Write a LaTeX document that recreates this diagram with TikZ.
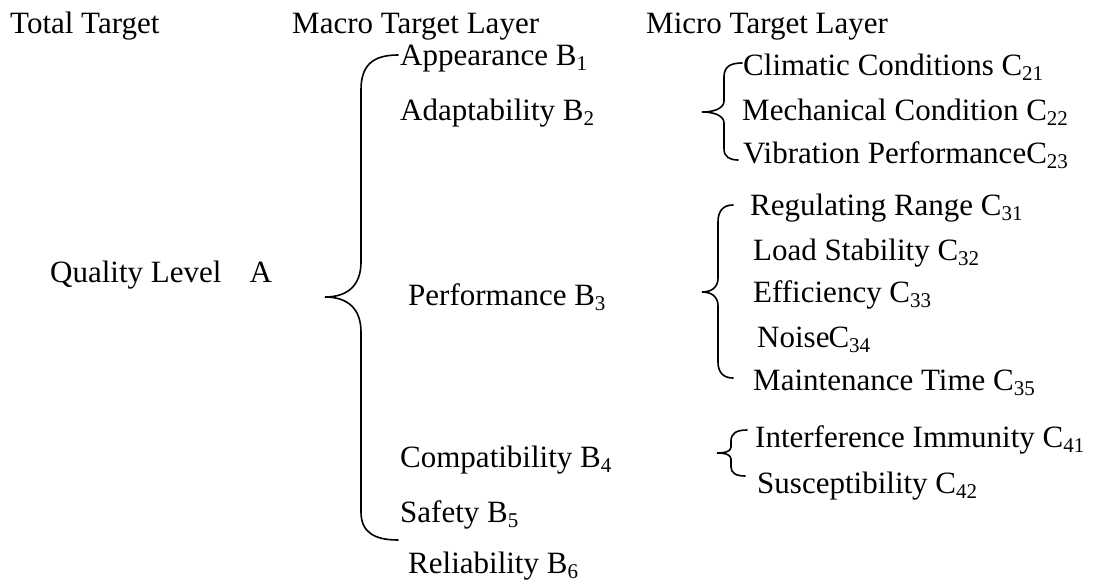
\documentclass[tikz,border=0pt]{standalone}
\usepackage{fontspec}
\setmainfont{Liberation Serif}
\newcommand\idx[1]{\raisebox{-5pt}{\fontsize{21}{21}\selectfont #1}}

\begin{document}
\begin{tikzpicture}[
		x=1pt, y=-1pt,
		lbl/.style={
			anchor=base west,
			inner sep=0pt,
			font=\fontsize{31}{37}\selectfont
		},
		brace/.style={line width=1.6pt, line cap=round}
		]
		\useasboundingbox (0,0) rectangle (1095,581);
		
		% layer headings
		\node[lbl] (total) at (10,33) {Total Target};
		\node[lbl] (macro) at (292,33) {Macro Target Layer};
		\node[lbl] (micro) at (646,33) {Micro Target Layer};
		
		\node[lbl] (quality) at (50,282) {Quality Level\hspace{28pt}A};
		
		% macro layer
		\node[lbl] (b1) at (400,65) {Appearance B\idx{1}};
		\node[lbl] (b2) at (400,120) {Adaptability B\idx{2}};
		\node[lbl] (b3) at (408,305) {Performance B\idx{3}};
		\node[lbl] (b4) at (400,467) {Compatibility B\idx{4}};
		\node[lbl] (b5) at (400,522) {Safety B\idx{5}};
		\node[lbl] (b6) at (408,573) {Reliability B\idx{6}};
		
		% micro layer
		\node[lbl] (c21) at (743,75) {Climatic Conditions C\idx{21}};
		\node[lbl] (c22) at (742,120) {Mechanical Condition C\idx{22}};
		\node[lbl] (c23) at (743,163) {Vibration PerformanceC\idx{23}};
		\node[lbl] (c31) at (750,215) {Regulating Range C\idx{31}};
		\node[lbl] (c32) at (753,260) {Load Stability C\idx{32}};
		\node[lbl] (c33) at (753,302) {Efficiency C\idx{33}};
		\node[lbl] (c34) at (757,347) {Noise\kern-1ptC\idx{34}};
		\node[lbl] (c35) at (753,390) {Maintenance Time C\idx{35}};
		\node[lbl] (c41) at (755,447) {Interference Immunity C\idx{41}};
		\node[lbl] (c42) at (757,493) {Susceptibility C\idx{42}};
		
		% braces
		\draw[brace] (398,55) .. controls (372,55) and (361,66) .. (361,90)
			-- (361,262) .. controls (361,285) and (348,297) .. (325,297)
			.. controls (348,297) and (361,309) .. (361,332)
			-- (361,512) .. controls (361,532) and (374,540) .. (398,540);
		\draw[brace] (742,63) .. controls (730,63) and (724,67) .. (724,77)
			-- (724,101) .. controls (724,108) and (715,112) .. (702,112)
			.. controls (715,112) and (724,116) .. (724,123)
			-- (724,149) .. controls (724,157) and (730,160) .. (738,160);
		\draw[brace] (733,205) .. controls (724,205) and (718,210) .. (718,222)
			-- (718,278) .. controls (718,287) and (712,292) .. (702,292)
			.. controls (712,292) and (718,297) .. (718,306)
			-- (718,362) .. controls (718,373) and (724,378) .. (733,378);
		\draw[brace] (747,430) .. controls (737,430) and (731,433) .. (731,441)
			-- (731,447) .. controls (731,451) and (726,453) .. (717,453)
			.. controls (726,453) and (731,455) .. (731,459)
			-- (731,467) .. controls (731,473) and (736,476) .. (745,476);
		
	\end{tikzpicture}
\end{document}
